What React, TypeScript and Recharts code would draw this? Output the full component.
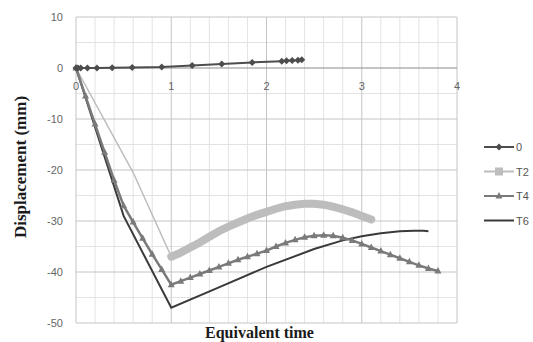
import { LineChart, Line, XAxis, YAxis, ReferenceLine, ReferenceDot, Label } from 'recharts'

// axis ticks
const timeTicks = [0, 1, 2, 3, 4]
const dispTicks = [-50, -40, -30, -20, -10, 0, 10]

// series "0"
const s0Time = [0, 0.02, 0.05, 0.12, 0.22, 0.38, 0.59, 0.9, 1.22, 1.53, 1.85, 2.16, 2.21, 2.27, 2.33, 2.37]
const s0Disp = [0, 0, 0, 0, 0, 0.05, 0.1, 0.2, 0.5, 0.8, 1.1, 1.3, 1.4, 1.45, 1.5, 1.6]

// series T2
const t2Time = [0, 0.6, 1.0, 1.1, 1.2, 1.3, 1.4, 1.5, 1.6, 1.7, 1.8, 1.9, 2.0, 2.1, 2.2, 2.3, 2.4, 2.5, 2.6, 2.7, 2.8, 2.9, 3.0, 3.1]
const t2Disp = [0, -20.5, -37, -36.2, -35.2, -34.2, -33.1, -32.0, -31.1, -30.3, -29.5, -28.8, -28.2, -27.6, -27.1, -26.8, -26.6, -26.6, -26.8, -27.2, -27.7, -28.3, -29.0, -29.7]

// series T4
const t4Time = [0, 0.1, 0.2, 0.3, 0.4, 0.5, 0.6, 0.7, 0.8, 0.9, 1.0, 1.1, 1.2, 1.3, 1.4, 1.5, 1.6, 1.7, 1.8, 1.9, 2.0, 2.1, 2.2, 2.3, 2.4, 2.5, 2.6, 2.7, 2.8, 2.9, 3.0, 3.1, 3.2, 3.3, 3.4, 3.5, 3.6, 3.7, 3.8]
const t4Disp = [0, -5.5, -11, -16.5, -22, -27, -30.2, -33.4, -36.5, -39.5, -42.5, -41.8, -41.1, -40.4, -39.7, -39.0, -38.3, -37.6, -37.0, -36.4, -35.8, -35.0, -34.3, -33.7, -33.2, -32.9, -32.8, -32.9, -33.3, -33.8, -34.5, -35.2, -35.9, -36.6, -37.3, -38.0, -38.7, -39.3, -39.8]

// series T6
const t6Time = [0, 0.5, 1.0, 1.5, 2.0, 2.5, 2.8, 3.0, 3.2, 3.4, 3.55, 3.6, 3.65, 3.7]
const t6Disp = [0, -29, -47, -43, -39, -35.5, -33.8, -33, -32.4, -32.0, -31.9, -31.9, -31.9, -32.0]

const toPoints = (xs: number[], ys: number[]) => xs.map((x, i) => ({ time: x, disp: ys[i] }))

const s0Points = toPoints(s0Time, s0Disp)
const t2Points = toPoints(t2Time, t2Disp)
const t2Band = t2Points.filter(p => p.time >= 1)
const t4Points = toPoints(t4Time, t4Disp)
const t6Points = toPoints(t6Time, t6Disp)

// minor grid every 0.2 in time and 5 in displacement
const minorTime = Array.from({ length: 21 }, (_, i) => Math.round(i * 2) / 10).filter(v => !timeTicks.includes(v))
const minorDisp = Array.from({ length: 13 }, (_, i) => -50 + i * 5).filter(v => !dispTicks.includes(v))

const C0 = '#4d4d4d'
const CT2 = '#bdbdbd'
const CT4 = '#7a7a7a'
const CT6 = '#3a3a3a'

const diamond = (props: any) => {
  const { cx, cy, index } = props
  return <path key={index} d={`M${cx},${cy - 3.5}L${cx + 3.5},${cy}L${cx},${cy + 3.5}L${cx - 3.5},${cy}Z`} fill={C0} />
}

const triangle = (props: any) => {
  const { cx, cy, index } = props
  return <path key={index} d={`M${cx},${cy - 4}L${cx + 3.5},${cy + 2.5}L${cx - 3.5},${cy + 2.5}Z`} fill={CT4} />
}

const legendItems = [
  { name: '0', color: C0, marker: 'diamond' },
  { name: 'T2', color: CT2, marker: 'square' },
  { name: 'T4', color: CT4, marker: 'triangle' },
  { name: 'T6', color: CT6, marker: 'none' }
]

const LegendBox = () => (
  <svg width={533} height={342} style={{ position: 'absolute', left: 0, top: 0, pointerEvents: 'none' }}>
    {legendItems.map((item, i) => {
      const y = 147 + i * 24.5
      const mx = 499
      return (
        <g key={item.name}>
          <line x1={484} x2={514} y1={y} y2={y} stroke={item.color} strokeWidth={2} />
          {item.marker === 'diamond' && <path d={`M${mx},${y - 3.5}L${mx + 3.5},${y}L${mx},${y + 3.5}L${mx - 3.5},${y}Z`} fill={item.color} />}
          {item.marker === 'square' && <rect x={mx - 4} y={y - 4} width={8} height={8} fill={item.color} />}
          {item.marker === 'triangle' && <path d={`M${mx},${y - 4}L${mx + 3.5},${y + 2.5}L${mx - 3.5},${y + 2.5}Z`} fill={item.color} />}
          <text x={516} y={y + 4} fontSize={11} fill='#555' fontFamily='Liberation Sans, sans-serif'>{item.name}</text>
        </g>
      )
    })}
  </svg>
)

export default function App () {
  return (
    <div style={{ position: 'absolute', left: 0, top: 0, width: 533, height: 342, background: '#fff' }}>
      <LineChart width={533} height={342} margin={{ top: 17, right: 76, bottom: 0, left: 0 }}>
        <XAxis
          type='number'
          dataKey='time'
          domain={[0, 4]}
          ticks={timeTicks}
          tick={false}
          tickLine={false}
          axisLine={false}
          height={19}
        >
          <Label
            value='Equivalent time'
            position='insideBottom'
            offset={4}
            dx={-7}
            style={{ fontFamily: 'Liberation Serif, serif', fontWeight: 'bold', fontSize: 16, fill: '#1a1a1a' }}
          />
        </XAxis>
        <YAxis
          type='number'
          domain={[-50, 10]}
          ticks={dispTicks}
          tickLine={false}
          axisLine={false}
          tickMargin={7}
          width={76}
          tick={{ fontSize: 11, fill: '#666', fontFamily: 'Liberation Sans, sans-serif' }}
        >
          <Label
            value='Displacement (mm)'
            angle={-90}
            position='insideLeft'
            offset={20}
            dy={-3}
            style={{ textAnchor: 'middle', fontFamily: 'Liberation Serif, serif', fontWeight: 'bold', fontSize: 17, fill: '#1a1a1a' }}
          />
        </YAxis>
        {/* minor grid */}
        {minorTime.map(v => <ReferenceLine key={`mx${v}`} x={v} stroke='#e3e3e3' />)}
        {minorDisp.map(v => <ReferenceLine key={`my${v}`} y={v} stroke='#e3e3e3' />)}
        {/* major grid */}
        {timeTicks.map(v => <ReferenceLine key={`Mx${v}`} x={v} stroke='#c4c4c4' />)}
        {dispTicks.filter(v => v !== 0).map(v => <ReferenceLine key={`My${v}`} y={v} stroke='#c4c4c4' />)}
        <ReferenceLine y={0} stroke='#8c8c8c' strokeWidth={1.2} />
        <Line data={t2Points} dataKey='disp' name='T2' stroke={CT2} strokeWidth={1.5} dot={false} isAnimationActive={false} />
        <Line data={t2Band} dataKey='disp' name='T2 band' stroke={CT2} strokeWidth={8} strokeLinecap='round' dot={false} legendType='none' isAnimationActive={false} />
        <Line data={t6Points} dataKey='disp' name='T6' stroke={CT6} strokeWidth={2} dot={false} isAnimationActive={false} />
        <Line data={t4Points} dataKey='disp' name='T4' stroke={CT4} strokeWidth={2.5} dot={triangle} isAnimationActive={false} />
        <Line data={s0Points} dataKey='disp' name='0' stroke={C0} strokeWidth={2} dot={diamond} isAnimationActive={false} />
        {timeTicks.map(t => (
          <ReferenceDot
            key={t}
            x={t}
            y={0}
            r={1}
            fill='none'
            stroke='none'
            label={{ value: t, position: 'bottom', offset: 13, fontSize: 11, fill: '#666', fontFamily: 'Liberation Sans, sans-serif' }}
          />
        ))}
      </LineChart>
      <LegendBox />
    </div>
  )
}
